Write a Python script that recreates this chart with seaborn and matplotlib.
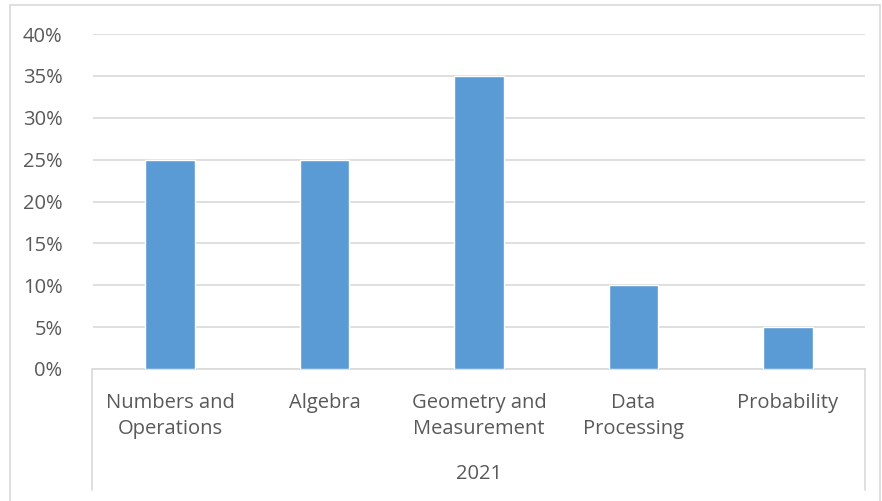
import matplotlib

matplotlib.use("Agg")

import matplotlib.pyplot as plt
import pandas as pd
import seaborn as sns
from matplotlib.lines import Line2D
from matplotlib.patches import Rectangle

categories = ["Numbers and\nOperations", "Algebra", "Geometry and\nMeasurement", "Data\nProcessing", "Probability"]
shares = [0.25, 0.25, 0.35, 0.10, 0.05]
group_label = "2021"
y_ticks = [0.0, 0.05, 0.10, 0.15, 0.20, 0.25, 0.30, 0.35, 0.40]

BAR_COLOR = "#5B9BD5"
TEXT_COLOR = "#595959"
GRID_COLOR = "#D9D9D9"
FONT_SIZE = 14.5

sns.set_style("white")
plt.rcParams["font.family"] = ["Open Sans", "DejaVu Sans"]

df = pd.DataFrame({"category": categories, "share": shares})

fig = plt.figure(figsize=(8.82, 5.01), dpi=100)
ax = fig.add_axes([93 / 882, 1 - 369 / 501, (865 - 93) / 882, (369 - 34) / 501])

sns.barplot(data=df, x="category", y="share", color=BAR_COLOR, width=0.32,
            saturation=1, ax=ax, zorder=3)

ax.set_ylim(0, 0.4)
ax.set_xlim(-0.5, len(categories) - 0.5)
ax.set_yticks(y_ticks)
ax.set_yticklabels([f"{int(round(t * 100))}%" for t in y_ticks])
ax.yaxis.grid(True, color=GRID_COLOR, linewidth=1.2, zorder=0)
ax.tick_params(axis="y", length=0, pad=22, labelsize=FONT_SIZE, labelcolor=TEXT_COLOR)
ax.tick_params(axis="x", length=0, pad=17, labelsize=FONT_SIZE, labelcolor=TEXT_COLOR)
for lbl in ax.get_xticklabels():
    lbl.set_linespacing(1.45)
    lbl.set_verticalalignment("top")
ax.set_xlabel("")
ax.set_ylabel("")
for side in ["top", "right", "left"]:
    ax.spines[side].set_visible(False)
ax.spines["bottom"].set_color(GRID_COLOR)
ax.spines["bottom"].set_linewidth(1.2)

# category axis group separators and group label
for xpix in (92, 865):
    fig.add_artist(Line2D([xpix / 882, xpix / 882], [1 - 369 / 501, 1 - 490 / 501],
                          transform=fig.transFigure, color=GRID_COLOR, linewidth=1.2))
fig.text((93 + 865) / 2 / 882, 1 - 474 / 501, group_label, ha="center", va="center",
         fontsize=FONT_SIZE, color=TEXT_COLOR)

# chart border
fig.add_artist(Rectangle((10 / 882, -0.01), 870 / 882, 1 - 5 / 501 + 0.01,
                         transform=fig.transFigure, fill=False,
                         edgecolor="#D9D9D9", linewidth=1.2))

fig.savefig("out.png", dpi=100)
